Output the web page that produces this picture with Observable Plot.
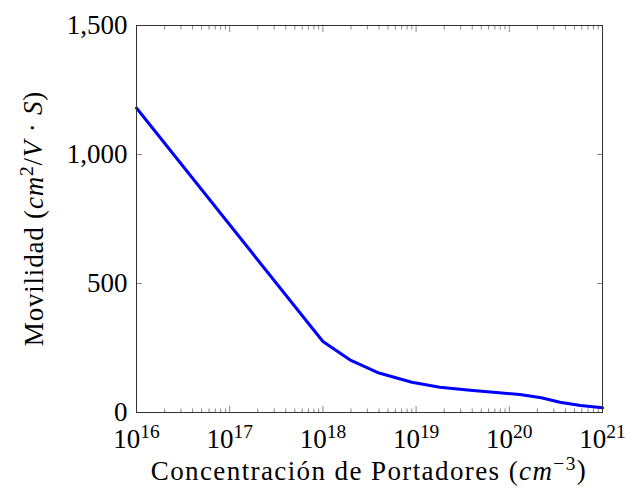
<!DOCTYPE html>
<html><head><meta charset="utf-8">
<script src="https://cdn.jsdelivr.net/npm/d3@7"></script>
<script src="https://cdn.jsdelivr.net/npm/@observablehq/plot@0.6"></script>
<style>body{margin:0;background:#fff}</style>
</head><body><div id="chart"></div>
<script>
const concentration = [1e16, 1e18, 2e18, 4e18, 9e18, 1.8e19, 3.8e19, 6.3e19, 1.3e20, 2.2e20, 3.5e20, 5.8e20, 1e21];
const mobility = [1180, 275, 202, 153, 117, 98, 86, 79, 70, 57, 40, 27, 18];
const xTicks = [1e16, 1e17, 1e18, 1e19, 1e20, 1e21];
const xTickExponents = ["16", "17", "18", "19", "20", "21"];
const yTicks = [0, 500, 1000, 1500];
const yTickLabels = ["0", "500", "1,000", "1,500"];
const minorMultipliers = [2, 3, 4, 5, 6, 7, 8, 9];
const xMinor = xTicks.slice(0, -1).flatMap(d => minorMultipliers.map(m => m * d));
const data = concentration.map((x, i) => ({x, y: mobility[i]}));
const font = "'Liberation Serif', 'DejaVu Serif', serif";
const tickColor = "#888";

const plot = Plot.plot({
  width: 628, height: 496,
  marginLeft: 136, marginRight: 26, marginTop: 25, marginBottom: 84,
  style: {fontFamily: font, fontSize: "27px", background: "#fff", color: "#000"},
  x: {type: "log", domain: [1e16, 1e21]},
  y: {domain: [0, 1500]},
  marks: [
    Plot.axisX(xMinor, {anchor: "bottom", tickSize: -3.5, tickFormat: () => "", label: null, stroke: tickColor}),
    Plot.axisX(xMinor, {anchor: "top", tickSize: -3.5, tickFormat: () => "", label: null, stroke: tickColor}),
    Plot.axisX(xTicks, {anchor: "bottom", tickSize: -6, tickFormat: () => "", label: null, stroke: tickColor}),
    Plot.axisX(xTicks, {anchor: "top", tickSize: -6, tickFormat: () => "", label: null, stroke: tickColor}),
    Plot.axisX(xTicks, {anchor: "bottom", tickSize: 0, tickPadding: 16, tickFormat: d => xTickExponents[xTicks.indexOf(d)], label: null}),
    Plot.axisY(yTicks, {anchor: "left", tickSize: -6, tickFormat: () => "", label: null, stroke: tickColor}),
    Plot.axisY(yTicks, {anchor: "right", tickSize: -6, tickFormat: () => "", label: null, stroke: tickColor}),
    Plot.axisY(yTicks, {anchor: "left", tickSize: 0, tickPadding: 9, tickFormat: d => yTickLabels[yTicks.indexOf(d)], label: null}),
    Plot.line(data, {x: "x", y: "y", stroke: "#0000ff", strokeWidth: 3}),
    Plot.frame({stroke: "#333"})
  ]
});

const svg = d3.select(plot);
// superscript exponents on x tick labels
svg.selectAll('g[aria-label="x-axis tick label"] text').each(function() {
  const t = d3.select(this);
  const e = t.text();
  if (!e) return;
  t.text(null);
  t.append("tspan").text("10");
  t.append("tspan").attr("font-size", "0.72em").attr("dy", "-0.5em").text(e);
});

// x axis label
const xl = svg.append("text")
  .attr("x", 369).attr("y", 480).attr("text-anchor", "middle")
  .attr("font-family", font).attr("font-size", 27).attr("letter-spacing", "1.4px").attr("fill", "#000");
xl.append("tspan").text("Concentración de Portadores (");
xl.append("tspan").attr("font-style", "italic").text("cm");
xl.append("tspan").attr("font-size", "0.72em").attr("dy", "-0.5em").text("−3");
xl.append("tspan").attr("dy", "0.34em").text(")");

// y axis label
const yl = svg.append("text")
  .attr("transform", "translate(43,218.5) rotate(-90)").attr("text-anchor", "middle")
  .attr("font-family", font).attr("font-size", 27).attr("letter-spacing", "0.8px").attr("fill", "#000");
yl.append("tspan").text("Movilidad (");
yl.append("tspan").attr("font-style", "italic").text("cm");
yl.append("tspan").attr("font-size", "0.72em").attr("dy", "-0.5em").text("2");
yl.append("tspan").attr("dy", "0.34em").text("/");
yl.append("tspan").attr("font-style", "italic").text("V");
yl.append("tspan").text(" · ");
yl.append("tspan").attr("font-style", "italic").text("S");
yl.append("tspan").text(")");

document.getElementById("chart").appendChild(plot);
</script>
</body></html>
